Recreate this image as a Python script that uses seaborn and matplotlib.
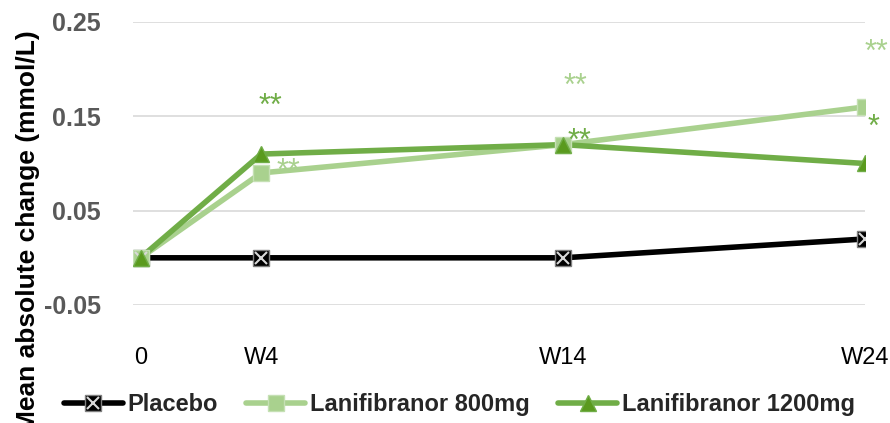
import pandas as pd
import matplotlib.pyplot as plt
import seaborn as sns
from matplotlib.lines import Line2D
from matplotlib.legend_handler import HandlerTuple

# Data
weeks = [0, 4, 14, 24]
week_labels = ['0', 'W4', 'W14', 'W24']
placebo = [0.0, 0.0, 0.0, 0.02]
lani_800 = [0.0, 0.09, 0.12, 0.16]
lani_1200 = [0.0, 0.11, 0.12, 0.10]

# significance stars: (x, y, text)
stars_800 = [(4.9, 0.091, '**'), (14.4, 0.181, '**'), (24.37, 0.217, '**')]
stars_1200 = [(4.3, 0.160, '**'), (14.55, 0.123, '**'), (24.27, 0.138, '*')]

series_names = ['Placebo', 'Lanifibranor 800mg', 'Lanifibranor 1200mg']
colors = {'Placebo': '#000000', 'Lanifibranor 800mg': '#a9d18e',
          'Lanifibranor 1200mg': '#70ad47'}

df = pd.DataFrame({
    'week': weeks * 3,
    'value': placebo + lani_800 + lani_1200,
    'group': [n for n in series_names for _ in weeks],
})

sns.set_style('white')
plt.rcParams['font.family'] = ['Liberation Sans', 'DejaVu Sans']

fig = plt.figure(figsize=(8.9, 4.23), dpi=100)
ax = fig.add_axes([0.1494, 0.279, 0.8225, 0.669])

sns.lineplot(data=df, x='week', y='value', hue='group', palette=colors,
             hue_order=series_names, linewidth=4, ax=ax, legend=False,
             zorder=3)

# markers
ax.plot(weeks, placebo, ls='none', marker='s', ms=11, mfc='#000000',
        mec='#7f7f7f', mew=1, zorder=4)
ax.plot(weeks, placebo, ls='none', marker='x', ms=9, mec='#d9d9d9',
        mew=1.5, zorder=5)
ax.plot(weeks, lani_800, ls='none', marker='s', ms=11, mfc='#a9d18e',
        mec='#c5e0b4', mew=1, zorder=4)
ax.plot(weeks, lani_1200, ls='none', marker='^', ms=11, mfc='#5a9a1e',
        mec='#70ad47', mew=1, zorder=6)

for x, y, t in stars_800:
    ax.text(x, y, t, color='#a9d18e', fontsize=22, ha='center',
            va='center', clip_on=False, zorder=7)
for x, y, t in stars_1200:
    ax.text(x, y, t, color='#70ad47', fontsize=22, ha='center',
            va='center', clip_on=False, zorder=7)

ax.set_xlim(-0.25, 24.0)
ax.set_ylim(-0.05, 0.25)
ax.set_yticks([-0.05, 0.05, 0.15, 0.25])
ax.set_yticklabels(['-0.05', '0.05', '0.15', '0.25'], fontsize=18,
                   fontweight='bold', color='#595959')
ax.set_xticks(weeks)
ax.set_xticklabels(week_labels, fontsize=17, color='#000000')
ax.tick_params(axis='x', length=0, pad=30)
ax.tick_params(axis='y', length=0, pad=23)
ax.grid(True, axis='y', color='#d9d9d9', linewidth=1.2)
ax.set_axisbelow(True)
for s in ax.spines.values():
    s.set_visible(False)
ax.set_xlabel('')
ax.set_ylabel('')
fig.text(0.031, 1 - 30 / 423, 'Mean absolute change (mmol/L)', rotation=90,
         ha='center', va='top', fontsize=19, fontweight='bold',
         color='#000000')

h_placebo = (Line2D([], [], color='#000000', lw=4),
             Line2D([], [], ls='none', marker='s', ms=11, mfc='#000000',
                    mec='#7f7f7f'),
             Line2D([], [], ls='none', marker='x', ms=9, mec='#d9d9d9',
                    mew=1.5))
h_800 = Line2D([], [], color='#a9d18e', lw=4, marker='s', ms=11,
               mfc='#a9d18e', mec='#c5e0b4')
h_1200 = Line2D([], [], color='#70ad47', lw=4, marker='^', ms=11,
                mfc='#5a9a1e', mec='#70ad47')
fig.legend([h_placebo, h_800, h_1200], series_names,
           handler_map={tuple: HandlerTuple(ndivide=1, pad=0)},
           loc='center', bbox_to_anchor=(0.516, 0.043), ncol=3,
           frameon=False, prop={'weight': 'bold', 'size': 17},
           handlelength=2.5, columnspacing=1.2, handletextpad=0.2,
           borderaxespad=0, borderpad=0)

fig.savefig('out.png', dpi=100)
